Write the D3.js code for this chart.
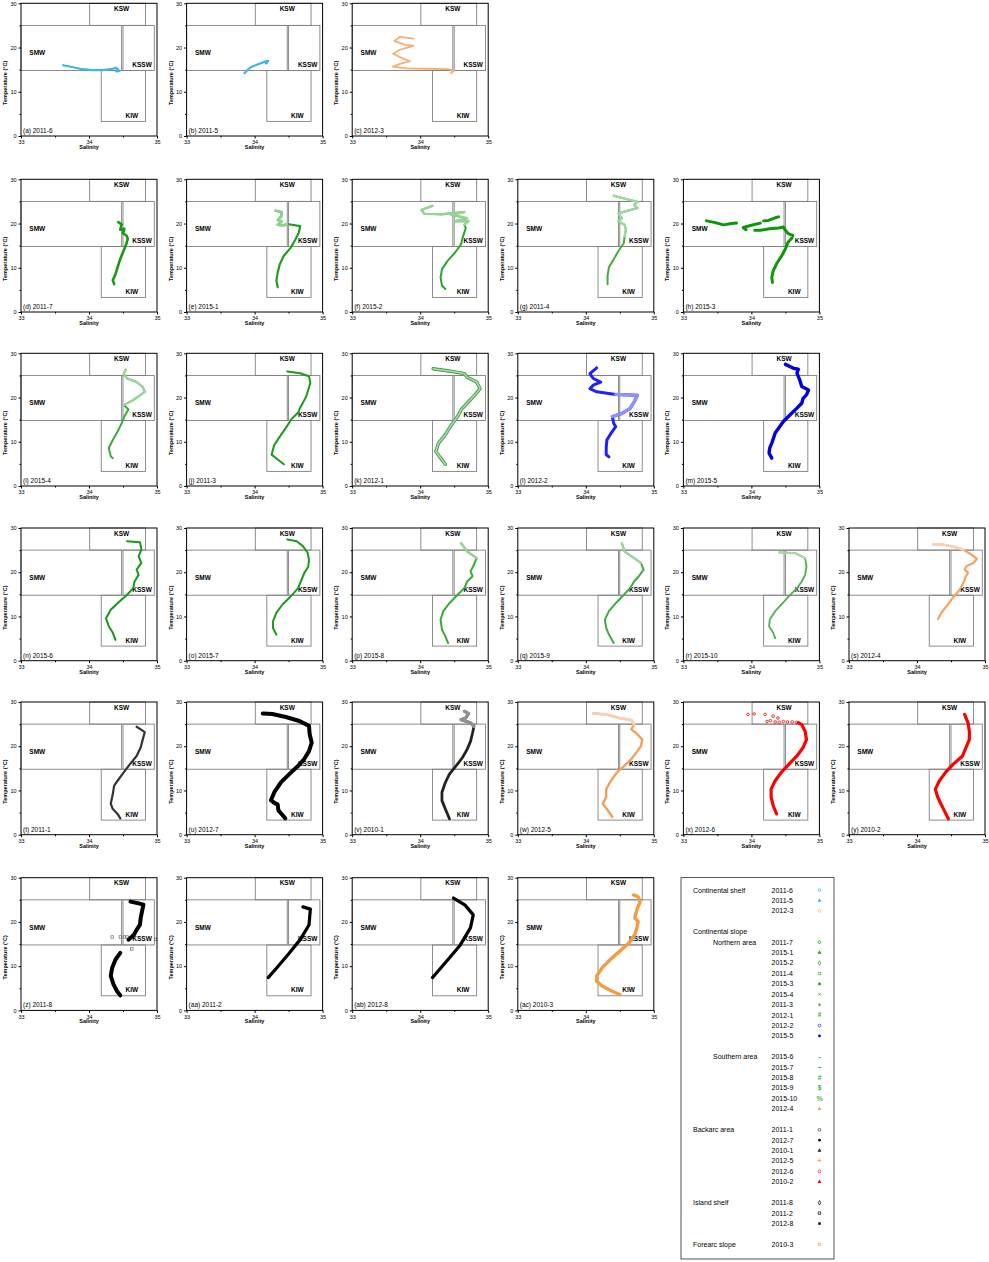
<!DOCTYPE html>
<html>
<head>
<meta charset="utf-8">
<script src="https://cdn.jsdelivr.net/npm/d3@7"></script>
<style>
  body { margin: 0; background: #fff; }
  svg { display: block; font-family: "Liberation Sans", Arial, sans-serif; }
</style>
</head>
<body>
<svg id="chart" width="989" height="1262"></svg>
<script>
// panel letters and the cruise shown in each panel
var panelLetters = ['a','b','c','d','e','f','g','h','i','j','k','l','m','n','o','p','q','r','s','t','u','v','w','x','y','z','aa','ab','ac'];
var panelCruises = ['2011-6','2011-5','2012-3','2011-7','2015-1','2015-2','2011-4','2015-3','2015-4','2011-3','2012-1','2012-2','2015-5',
                    '2015-6','2015-7','2015-8','2015-9','2015-10','2012-4','2011-1','2012-7','2010-1','2012-5','2012-6','2010-2',
                    '2011-8','2011-2','2012-8','2010-3'];
var panelsPerRow = [3,5,5,6,6,4];

// water mass boxes [name, Smin, Smax, Tmin, Tmax]
var waterMasses = [
  ['KSW', 34.01, 34.83, 25, 30],
  ['SMW', 33.0, 34.48, 14.8, 25],
  ['KSSW', 34.5, 34.96, 14.8, 25],
  ['KIW', 34.18, 34.83, 3.3, 14.8]
];
// label anchor of each water mass [S, T]
var waterMassLabels = [['KSW',34.48,28.3],['SMW',33.24,18.2],['KSSW',34.78,15.6],['KIW',34.63,4.1]];

var salinityTicks = [33, 34, 35];
var tempTicks = [0, 10, 20, 30];

// T-S profiles, [salinity, temperature]; null = gap
var p2011_6 = [[33.62,16.0],[33.75,15.6],[33.9,15.1],[34.05,14.9],[34.2,14.9],[34.32,15.1],[34.4,15.4],[34.43,15.0],[34.4,14.6],[34.45,14.7]];
var p2011_5 = [[33.85,14.2],[33.9,15.0],[33.95,15.6],[34.05,16.2],[34.1,16.5],[34.15,16.8],[34.2,17.0],[34.17,16.4]];
var p2012_3 = [[33.9,22.0],[33.7,22.4],[33.62,21.5],[33.78,20.6],[33.9,20.4],[33.7,19.5],[33.6,18.6],[33.75,17.5],[33.85,16.9],[33.7,16.3],[33.6,15.7],[33.8,15.3],[34.1,15.2],[34.4,15.1],[34.5,14.8],[34.45,14.2]];
var p2011_7 = [[34.43,20.3],[34.48,19.8],[34.46,18.6],[34.52,18.8],[34.5,17.8],[34.55,17.3],[34.57,16.6],[34.55,15.4],[34.51,13.9],[34.46,12.0],[34.42,10.1],[34.39,8.6],[34.35,7.2],[34.37,6.3]];
var p2015_1 = [[34.31,22.9],[34.4,22.6],[34.39,21.6],[34.34,20.8],[34.4,20.5],[34.34,19.7],[34.43,19.6],[34.48,19.9],[34.67,19.4],[34.65,17.9],[34.6,16.4],[34.53,14.5],[34.43,12.7],[34.37,10.8],[34.34,8.9],[34.32,7.1],[34.34,5.6]];
var p2015_2 = [[34.18,24.0],[34.02,23.1],[34.06,22.2],[34.32,22.1],[34.65,22.6],[34.46,22.0],[34.69,21.2],[34.51,20.5],[34.71,20.6],[34.65,19.7],[34.67,19.0],[34.63,17.1],[34.6,15.3],[34.51,13.4],[34.4,11.5],[34.32,9.7],[34.3,7.8],[34.32,6.0],[34.37,5.2]];
var p2011_4 = [[34.41,26.3],[34.53,25.8],[34.76,24.9],[34.71,24.2],[34.76,23.5],[34.62,22.9],[34.48,22.3],[34.53,21.2],[34.48,20.5],[34.57,19.7],[34.59,18.6],[34.57,17.1],[34.56,15.6],[34.48,13.8],[34.41,11.9],[34.34,10.1],[34.32,8.2],[34.32,6.3]];
var p2015_3 = [[33.34,20.6],[33.47,20.2],[33.59,19.7],[33.71,20.0],[33.78,20.1],null,
               [34.4,21.5],[34.35,21.3],[34.25,20.7],[34.18,20.6],null,[34.13,20.1],[34.0,19.6],[33.88,19.1],[33.92,18.6],null,
               [34.05,18.5],[34.13,18.5],[34.27,18.8],[34.4,19.0],[34.47,19.2],[34.5,18.5],[34.54,17.7],[34.61,17.3],[34.59,16.6],[34.54,15.8],[34.5,14.3],[34.45,12.8],[34.37,10.9],[34.32,9.3],[34.3,7.8],[34.31,6.7]];
var p2015_4 = [[34.54,26.3],[34.51,25.4],[34.56,24.3],[34.7,23.5],[34.79,22.4],[34.82,21.3],[34.75,20.5],[34.65,19.4],[34.51,18.3],[34.54,17.9],[34.58,17.3],[34.53,16.0],[34.48,14.2],[34.42,12.3],[34.35,10.4],[34.29,8.6],[34.32,6.7],[34.35,6.3]];
var p2011_3 = [[34.48,25.9],[34.67,25.5],[34.8,24.8],[34.82,23.3],[34.79,21.8],[34.76,20.3],[34.71,18.8],[34.67,17.7],[34.64,16.6],[34.54,15.1],[34.48,13.6],[34.39,11.6],[34.29,9.3],[34.25,7.1],[34.34,6.0],[34.43,4.9]];
var p2012_1 = [[34.19,26.5],[34.37,26.1],[34.55,25.7],[34.65,25.4],[34.69,24.6],[34.83,23.5],[34.88,22.0],[34.8,20.5],[34.69,18.7],[34.6,17.2],[34.55,15.7],[34.46,13.8],[34.37,11.6],[34.27,9.7],[34.23,7.8],[34.3,6.3],[34.37,4.9]];
var p2012_2 = [[34.16,26.7],[34.06,25.4],[34.11,24.3],[34.22,23.5],[34.11,22.8],[34.06,22.0],[34.16,21.3],[34.44,20.7],[34.76,20.5],[34.71,19.0],[34.65,17.5],[34.53,16.4],[34.39,15.7],[34.41,14.2],[34.44,13.4],[34.37,11.9],[34.31,10.4],[34.3,8.6],[34.3,7.1],[34.34,6.6]];
var p2015_5 = [[34.5,27.5],[34.62,26.6],[34.69,26.4],[34.67,25.5],[34.71,24.0],[34.74,22.5],[34.84,21.7],[34.81,20.6],[34.76,19.8],[34.74,18.7],[34.67,17.6],[34.57,16.1],[34.47,14.6],[34.35,12.0],[34.3,9.7],[34.27,8.6],[34.26,7.4],[34.3,6.3]];
var p2015_6 = [[34.56,27.0],[34.75,26.8],[34.77,25.1],[34.73,23.6],[34.77,22.1],[34.7,20.6],[34.73,19.4],[34.67,17.9],[34.65,16.4],[34.56,14.9],[34.42,13.0],[34.32,11.5],[34.25,9.6],[34.29,7.8],[34.35,6.3],[34.39,4.7]];
var p2015_7 = [[34.48,27.4],[34.62,27.0],[34.71,25.9],[34.78,24.4],[34.8,22.8],[34.79,21.3],[34.73,19.8],[34.69,18.3],[34.64,16.4],[34.53,14.5],[34.41,12.7],[34.32,10.8],[34.27,8.9],[34.27,7.4],[34.32,5.9]];
var p2015_8 = [[34.6,26.6],[34.69,24.7],[34.83,23.2],[34.79,21.7],[34.74,20.2],[34.77,19.1],[34.69,17.9],[34.65,16.4],[34.55,14.9],[34.43,13.0],[34.34,11.2],[34.3,9.3],[34.32,7.0],[34.37,5.5],[34.41,4.0]];
var p2015_9 = [[34.53,26.6],[34.57,24.7],[34.67,23.6],[34.81,22.1],[34.85,20.6],[34.78,19.1],[34.71,17.9],[34.65,16.4],[34.56,14.9],[34.44,13.0],[34.34,11.2],[34.28,9.3],[34.3,7.4],[34.34,5.9],[34.41,4.0]];
var p2015_10 = [[34.41,24.5],[34.65,24.3],[34.79,23.2],[34.81,21.3],[34.79,19.4],[34.74,17.9],[34.67,16.4],[34.57,14.9],[34.46,13.0],[34.35,11.2],[34.27,9.3],[34.26,7.8],[34.32,6.3],[34.35,5.1]];
var p2012_4 = [[34.24,26.3],[34.36,26.3],[34.56,25.7],[34.68,25.1],[34.8,24.0],[34.88,23.0],[34.83,22.1],[34.73,21.4],[34.7,20.6],[34.75,19.9],[34.71,18.8],[34.68,17.5],[34.63,16.1],[34.53,14.3],[34.44,12.4],[34.36,10.9],[34.31,9.4]];
var p2011_1 = [[34.7,24.4],[34.76,23.8],[34.82,23.2],[34.79,21.5],[34.76,19.7],[34.7,17.8],[34.6,15.9],[34.51,14.1],[34.42,12.2],[34.37,11.1],[34.35,9.2],[34.32,7.0],[34.35,5.8],[34.42,4.7],[34.46,3.7]];
var p2012_7 = [[34.12,27.4],[34.26,27.3],[34.46,26.6],[34.66,25.7],[34.8,24.6],[34.81,22.7],[34.84,20.8],[34.8,18.9],[34.73,17.1],[34.63,15.4],[34.51,13.7],[34.39,11.9],[34.29,9.6],[34.24,7.8],[34.29,7.2],[34.34,6.8],[34.35,5.5],[34.39,4.8],[34.45,3.7]];
var p2010_1 = [[34.65,27.9],[34.71,27.4],[34.67,26.4],[34.6,26.0],[34.74,25.3],[34.79,24.5],[34.77,23.0],[34.74,21.1],[34.69,19.3],[34.62,17.4],[34.53,15.6],[34.43,13.7],[34.37,11.8],[34.32,9.6],[34.32,7.7],[34.37,5.8],[34.43,3.6]];
var p2012_5 = [[34.11,27.4],[34.3,27.2],[34.48,26.4],[34.67,25.9],[34.71,24.9],[34.67,23.8],[34.76,22.7],[34.83,21.5],[34.81,20.0],[34.74,18.5],[34.67,17.1],[34.57,15.6],[34.46,14.1],[34.37,12.2],[34.3,10.3],[34.3,8.5],[34.25,7.0],[34.31,5.8],[34.39,4.0]];
var p2012_6 = [[34.69,25.3],[34.74,24.9],[34.79,23.4],[34.81,21.5],[34.76,19.7],[34.67,17.8],[34.55,15.9],[34.44,14.1],[34.35,12.2],[34.29,10.3],[34.29,8.5],[34.32,6.6],[34.37,4.7]];
var p2012_6_surface = [[33.95,27.2],[34.04,27.3],[34.2,27.2],[34.32,26.8],[34.39,26.4],[34.23,25.6],[34.28,25.8],[34.35,25.5],[34.41,25.4],[34.47,25.6],[34.53,25.5],[34.6,25.5],[34.66,25.4]];
var p2010_2 = [[34.7,27.2],[34.75,25.3],[34.77,23.4],[34.77,21.5],[34.72,19.7],[34.67,17.8],[34.53,15.9],[34.42,14.1],[34.33,12.2],[34.27,10.3],[34.3,8.7],[34.35,7.0],[34.4,5.5],[34.46,3.6]];
var p2011_8 = [[34.61,24.6],[34.73,24.2],[34.8,23.9],[34.78,22.4],[34.76,20.9],[34.75,19.4],[34.7,18.2],[34.66,17.1],[34.61,16.4],[34.58,16.0],null,
               [34.46,13.0],[34.39,11.5],[34.34,9.6],[34.32,7.8],[34.36,5.9],[34.41,4.4],[34.46,3.4]];
var p2011_8_scatter = [[34.34,16.6],[34.46,16.6],[34.52,16.6],[34.56,16.6],[34.63,13.9],[34.98,16.1]];
var p2011_2 = [[34.71,23.4],[34.82,22.9],[34.8,19.3],[34.67,16.0],[34.49,12.6],[34.33,9.7],[34.2,7.4]];
var p2012_8 = [[34.49,25.4],[34.66,23.8],[34.78,21.6],[34.74,18.7],[34.59,14.8],[34.41,11.5],[34.22,8.1],[34.18,7.4]];
var p2010_3 = [[34.7,26.1],[34.77,25.7],[34.8,24.6],[34.76,23.1],[34.73,21.6],[34.72,20.9],[34.77,20.1],[34.75,18.6],[34.72,17.1],[34.63,15.2],[34.5,13.4],[34.36,11.5],[34.24,9.6],[34.16,7.8],[34.16,6.6],[34.24,5.5],[34.38,4.4],[34.5,3.6]];

var profiles = {
  '2011-6':p2011_6,'2011-5':p2011_5,'2012-3':p2012_3,'2011-7':p2011_7,'2015-1':p2015_1,'2015-2':p2015_2,'2011-4':p2011_4,
  '2015-3':p2015_3,'2015-4':p2015_4,'2011-3':p2011_3,'2012-1':p2012_1,'2012-2':p2012_2,'2015-5':p2015_5,'2015-6':p2015_6,
  '2015-7':p2015_7,'2015-8':p2015_8,'2015-9':p2015_9,'2015-10':p2015_10,'2012-4':p2012_4,'2011-1':p2011_1,'2012-7':p2012_7,
  '2010-1':p2010_1,'2012-5':p2012_5,'2012-6':p2012_6,'2010-2':p2010_2,'2011-8':p2011_8,'2011-2':p2011_2,'2012-8':p2012_8,'2010-3':p2010_3
};

// legend rows: [group, subgroup, cruise]; null = blank row
var legendRows = [
  ['Continental shelf','','2011-6'],['','','2011-5'],['','','2012-3'],null,
  ['Continental slope','',''],['','Northern area','2011-7'],['','','2015-1'],['','','2015-2'],['','','2011-4'],['','','2015-3'],
  ['','','2015-4'],['','','2011-3'],['','','2012-1'],['','','2012-2'],['','','2015-5'],null,
  ['','Southern area','2015-6'],['','','2015-7'],['','','2015-8'],['','','2015-9'],['','','2015-10'],['','','2012-4'],null,
  ['Backarc area','','2011-1'],['','','2012-7'],['','','2010-1'],['','','2012-5'],['','','2012-6'],['','','2010-2'],null,
  ['Island shelf','','2011-8'],['','','2011-2'],['','','2012-8'],null,
  ['Forearc slope','','2010-3']
];

// ---- styles (colour, stroke width, legend marker, faded stretch of the profile) ----
var style = {
  '2011-6':{c:'#3db5e6',w:2.2,m:'circle'}, '2011-5':{c:'#3db5e6',w:2.2,m:'triangle'}, '2012-3':{c:'#f6ae72',w:1.8,m:'circle'},
  '2011-7':{c:'#139c13',w:2.6,m:'circle'}, '2015-1':{c:'#1f9f1f',w:2.2,m:'triangle',fade:[0,8]},
  '2015-2':{c:'#2ea52e',w:2.0,m:'diamond',fade:[0,10]},
  '2011-4':{c:'#3fae3f',w:2.0,m:'square',fade:[0,12]}, '2015-3':{c:'#0b970b',w:3.0,m:'squareF'},
  '2015-4':{c:'#3aab3a',w:2.0,m:'cross',fade:[0,9]},
  '2011-3':{c:'#1a9b1a',w:2.0,m:'star'}, '2012-1':{c:'#3f9f3f',w:3.4,m:'#',open:true},
  '2012-2':{c:'#2020ff',w:3.0,m:'circle',fade:[7,13]},
  '2015-5':{c:'#0000e0',w:3.4,m:'circleF'}, '2015-6':{c:'#159a15',w:2.0,m:'-'}, '2015-7':{c:'#1a9b1a',w:2.0,m:'–'},
  '2015-8':{c:'#3aa83a',w:2.0,m:'#',fade:[0,3]}, '2015-9':{c:'#40ab40',w:2.0,m:'$',fade:[0,4]},
  '2015-10':{c:'#4cb24c',w:1.8,m:'%',fade:[0,3]},
  '2012-4':{c:'#f4a262',w:2.2,m:'triangle',fade:[0,4]}, '2011-1':{c:'#333333',w:2.2,m:'circle'},
  '2012-7':{c:'#000000',w:4.0,m:'circleF'},
  '2010-1':{c:'#222222',w:2.8,m:'triangle',fade:[0,6]}, '2012-5':{c:'#f3a05c',w:2.4,m:'+',fade:[0,5]},
  '2012-6':{c:'#ff0000',w:3.2,m:'circle'},
  '2010-2':{c:'#ff0000',w:3.2,m:'triangle'}, '2011-8':{c:'#000000',w:4.0,m:'diamond'}, '2011-2':{c:'#000000',w:3.2,m:'square'},
  '2012-8':{c:'#000000',w:3.2,m:'squareF'}, '2010-3':{c:'#f39b45',w:3.4,m:'square'}
};

var svg = d3.select('#chart');
var plotW = 136, plotH = 132.7;
var colStep = 165.6, firstLeft = 21;
var rowTops = [3.3, 179.3, 353.3, 528, 702, 877.7];

var sx = d3.scaleLinear().domain([33,35]).range([0,plotW]);
var sy = d3.scaleLinear().domain([0,30]).range([plotH,0]);
var line = d3.line().defined(function(d){return d != null;}).x(function(d){return sx(d[0]);}).y(function(d){return sy(d[1]);});

var idx = 0;
panelsPerRow.forEach(function(n, r){
  for (var c = 0; c < n; c++) {
    drawPanel(firstLeft + c*colStep, rowTops[r], panelLetters[idx], panelCruises[idx]);
    idx++;
  }
});

function drawPanel(left, top, letter, cruise){
  var g = svg.append('g').attr('transform','translate('+left+','+top+')');

  // water mass boxes
  g.selectAll('.wm').data(waterMasses).enter().append('rect')
    .attr('x',function(d){return sx(d[1]);})
    .attr('y',function(d){return sy(d[4]);})
    .attr('width',function(d){return sx(d[2])-sx(d[1]);})
    .attr('height',function(d){return sy(d[3])-sy(d[4]);})
    .attr('fill','none').attr('stroke','#808080').attr('stroke-width',0.9);

  g.selectAll('.wml').data(waterMassLabels).enter().append('text')
    .attr('x',function(d){return sx(d[1]);})
    .attr('y',function(d){return sy(d[2]);})
    .attr('text-anchor','middle')
    .attr('font-size','6.5px').attr('font-weight','bold')
    .text(function(d){return d[0];});

  // profile
  var st = style[cruise];
  var data = profiles[cruise];
  g.append('path').datum(data)
    .attr('d',line)
    .attr('fill','none')
    .attr('stroke',st.c)
    .attr('stroke-width',st.w)
    .attr('stroke-linecap','round')
    .attr('stroke-linejoin','round');
  if (st.open) {
    g.append('path').datum(data).attr('d',line).attr('fill','none')
      .attr('stroke',d3.interpolateRgb(st.c,'#fff')(0.6)).attr('stroke-width',st.w*0.45)
      .attr('stroke-linecap','round').attr('stroke-linejoin','round');
  }
  if (st.fade) {
    g.append('path').datum(data.slice(st.fade[0], st.fade[1]))
      .attr('d',line).attr('fill','none')
      .attr('stroke',d3.interpolateRgb(st.c,'#fff')(0.5))
      .attr('stroke-width',st.w+0.3)
      .attr('stroke-linecap','round').attr('stroke-linejoin','round');
  }

  if (cruise === '2012-6') {
    g.selectAll('.sc').data(p2012_6_surface).enter().append('circle')
      .attr('cx',function(d){return sx(d[0]);}).attr('cy',function(d){return sy(d[1]);})
      .attr('r',1.3).attr('fill','none').attr('stroke',st.c).attr('stroke-width',0.8);
  }
  if (cruise === '2011-8') {
    g.selectAll('.sc').data(p2011_8_scatter).enter().append('rect')
      .attr('x',function(d){return sx(d[0])-1.2;}).attr('y',function(d){return sy(d[1])-1.2;})
      .attr('width',2.4).attr('height',2.4).attr('fill','none').attr('stroke','#555').attr('stroke-width',0.6);
  }

  // frame
  g.append('rect').attr('width',plotW).attr('height',plotH)
    .attr('fill','none').attr('stroke','#000').attr('stroke-width',1);

  // axes
  var yAxis = d3.axisLeft(sy).tickValues(tempTicks).tickSize(2.5).tickPadding(2);
  var ya = g.append('g').call(yAxis);
  ya.select('.domain').remove();
  ya.selectAll('text').attr('font-size','5.5px').attr('font-family','Liberation Sans, Arial');
  g.append('g').call(d3.axisLeft(sy).tickValues([5,15,25]).tickSize(1.5).tickFormat(''))
    .select('.domain').remove();

  var xAxis = d3.axisBottom(sx).tickValues(salinityTicks).tickSize(2.5).tickPadding(2).tickFormat(d3.format('d'));
  var xa = g.append('g').attr('transform','translate(0,'+plotH+')').call(xAxis);
  xa.select('.domain').remove();
  xa.selectAll('text').attr('font-size','5.5px').attr('font-family','Liberation Sans, Arial');
  g.append('g').attr('transform','translate(0,'+plotH+')')
    .call(d3.axisBottom(sx).tickValues([33.5,34.5]).tickSize(1.5).tickFormat(''))
    .select('.domain').remove();

  g.append('text').attr('x',sx(34)).attr('y',plotH+13)
    .attr('text-anchor','middle').attr('font-size','5.5px').attr('font-weight','bold')
    .text('Salinity');
  g.append('text').attr('transform','translate(-14,'+sy(12)+') rotate(-90)')
    .attr('text-anchor','middle').attr('font-size','5.5px').attr('font-weight','bold')
    .text('Temperature (°C)');

  g.append('text').attr('x',2).attr('y',plotH-3)
    .attr('font-size','6.5px')
    .text('('+letter+') '+cruise);
}

// ---- legend ----
var lg = svg.append('g');
lg.append('rect').attr('x',681).attr('y',877.5).attr('width',153).attr('height',381.5)
  .attr('fill','none').attr('stroke','#555').attr('stroke-width',1);
var ly = d3.scaleLinear().domain([0,34]).range([892.5,1246.8]);

legendRows.forEach(function(row, i){
  if (!row) return;
  var y = ly(i);
  if (row[0]) lg.append('text').attr('x',693).attr('y',y).attr('font-size','7px').text(row[0]);
  if (row[1]) lg.append('text').attr('x',713).attr('y',y).attr('font-size','7px').text(row[1]);
  if (row[2]) {
    lg.append('text').attr('x',771.5).attr('y',y).attr('font-size','7px').text(row[2]);
    drawMarker(lg, 819.5, y-2.4, style[row[2]]);
  }
});

function drawMarker(g, x, y, st){
  var m = st.m, col = st.c;
  var sym = {circle:d3.symbolCircle, circleF:d3.symbolCircle, triangle:d3.symbolTriangle, diamond:d3.symbolDiamond,
             square:d3.symbolSquare, squareF:d3.symbolSquare, cross:d3.symbolX, star:d3.symbolAsterisk};
  if (sym[m]) {
    var filled = (m === 'circleF' || m === 'squareF' || m === 'triangle' || m === 'star');
    var p = g.append('path').attr('transform','translate('+x+','+y+')')
      .attr('d', d3.symbol().type(sym[m]).size(m === 'triangle' ? 7 : 6)());
    if (filled && m !== 'star') p.attr('fill',col).attr('stroke','none');
    else p.attr('fill','none').attr('stroke',col).attr('stroke-width',0.7);
  } else {
    g.append('text').attr('x',x).attr('y',y+2.2).attr('text-anchor','middle')
      .attr('font-size', m === '%' ? '7px' : '6.5px').attr('font-weight','bold').attr('fill',col).text(m);
  }
}
</script>
</body>
</html>
